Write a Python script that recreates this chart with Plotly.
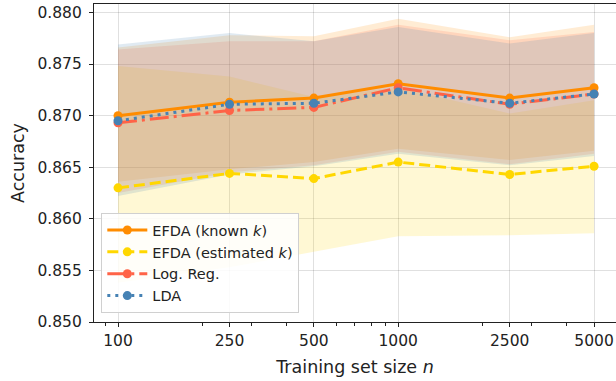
import plotly.graph_objects as go

n = [100, 250, 500, 1000, 2500, 5000]
tick_labels = ["100", "250", "500", "1000", "2500", "5000"]

efda_known = [0.8700, 0.8713, 0.8717, 0.8731, 0.8717, 0.8727]
efda_known_lo = [0.8636, 0.8648, 0.8655, 0.8668, 0.8657, 0.8666]
efda_known_hi = [0.8766, 0.8778, 0.8777, 0.8794, 0.8776, 0.8788]

efda_est = [0.8630, 0.8644, 0.8639, 0.8655, 0.8643, 0.8651]
efda_est_lo = [0.8538, 0.8553, 0.8568, 0.8583, 0.8584, 0.8586]
efda_est_hi = [0.8748, 0.8738, 0.8718, 0.8727, 0.8702, 0.8715]

logreg = [0.8693, 0.8705, 0.8708, 0.8727, 0.8711, 0.8721]
logreg_lo = [0.8625, 0.8645, 0.8652, 0.8665, 0.8653, 0.8663]
logreg_hi = [0.8764, 0.8772, 0.8772, 0.8788, 0.8773, 0.8781]

lda = [0.8695, 0.8711, 0.8712, 0.8723, 0.8712, 0.8721]
lda_lo = [0.8622, 0.8643, 0.8651, 0.8663, 0.8652, 0.8661]
lda_hi = [0.8769, 0.8780, 0.8772, 0.8786, 0.8770, 0.8780]

series = [
    ("EFDA (known <i>k</i>)", efda_known, efda_known_lo, efda_known_hi, "#FF8C00", "solid"),
    ("EFDA (estimated <i>k</i>)", efda_est, efda_est_lo, efda_est_hi, "#FFD700", "11px,5px"),
    ("Log. Reg.", logreg, logreg_lo, logreg_hi, "#FF6347", "19px,5px,3px,5px"),
    ("LDA", lda, lda_lo, lda_hi, "#4682B4", "3px,5px"),
]

def rgba(hexc, a):
    h = hexc.lstrip("#")
    r, g, b = int(h[0:2], 16), int(h[2:4], 16), int(h[4:6], 16)
    return f"rgba({r},{g},{b},{a})"

fig = go.Figure()

for name, mean, lo, hi, col, dash in series:
    fig.add_trace(go.Scatter(x=n, y=lo, mode="lines", line=dict(width=0, color=col),
                             showlegend=False, hoverinfo="skip"))
    fig.add_trace(go.Scatter(x=n, y=hi, mode="lines", line=dict(width=0, color=col),
                             fill="tonexty", fillcolor=rgba(col, 0.17),
                             showlegend=False, hoverinfo="skip"))

for name, mean, lo, hi, col, dash in series:
    fig.add_trace(go.Scatter(x=n, y=mean, mode="lines+markers", name=name,
                             line=dict(color=col, width=3, dash=dash),
                             marker=dict(color=col, size=9)))

font_family = "DejaVu Sans"

fig.update_layout(
    width=616, height=381,
    margin=dict(l=94, r=0, t=4, b=59, autoexpand=False),
    plot_bgcolor="white", paper_bgcolor="white",
    font=dict(family=font_family, color="#222", size=15.5),
    showlegend=True,
    legend=dict(x=0.014, y=0.028, xanchor="left", yanchor="bottom",
                traceorder="normal",
                bgcolor="rgba(255,255,255,0.85)", bordercolor="#d0d0d0", borderwidth=1,
                font=dict(size=14.5, family=font_family), tracegroupgap=0,
                itemwidth=40),
    xaxis=dict(
        type="log", range=[1.9143, 3.7773], automargin=False,
        tickmode="array", tickvals=n, ticktext=tick_labels,
        ticks="outside", ticklen=4, tickwidth=1.2, tickcolor="#222",
        showline=True, linecolor="#222", linewidth=1.2, mirror=True,
        showgrid=True, gridcolor="rgba(0,0,0,0.12)", gridwidth=1,
        zeroline=False,
        tickfont=dict(size=15.5),
        minor=dict(tickmode="array",
                   tickvals=[90, 200, 300, 400, 600, 700, 800, 900, 2000, 3000, 4000, 6000],
                   ticks="outside", ticklen=2.5, tickwidth=1, tickcolor="#222", showgrid=False),
        title=dict(text="Training set size <i>n</i>", font=dict(size=17.5), standoff=12),
    ),
    yaxis=dict(
        range=[0.850, 0.88082], automargin=False,
        tickmode="array",
        tickvals=[0.850, 0.855, 0.860, 0.865, 0.870, 0.875, 0.880],
        ticktext=["0.850", "0.855", "0.860", "0.865", "0.870", "0.875", "0.880"],
        ticks="outside", ticklen=4, tickwidth=1.2, tickcolor="#222",
        ticklabelstandoff=4,
        showline=True, linecolor="#222", linewidth=1.2,
        showgrid=True, gridcolor="rgba(0,0,0,0.12)", gridwidth=1,
        zeroline=False,
        tickfont=dict(size=15.5),
        title=dict(text="Accuracy", font=dict(size=17.5), standoff=8),
    ),
)

fig.write_html("out.html", config={"displayModeBar": False},
               post_script="document.body.style.margin='0';")
